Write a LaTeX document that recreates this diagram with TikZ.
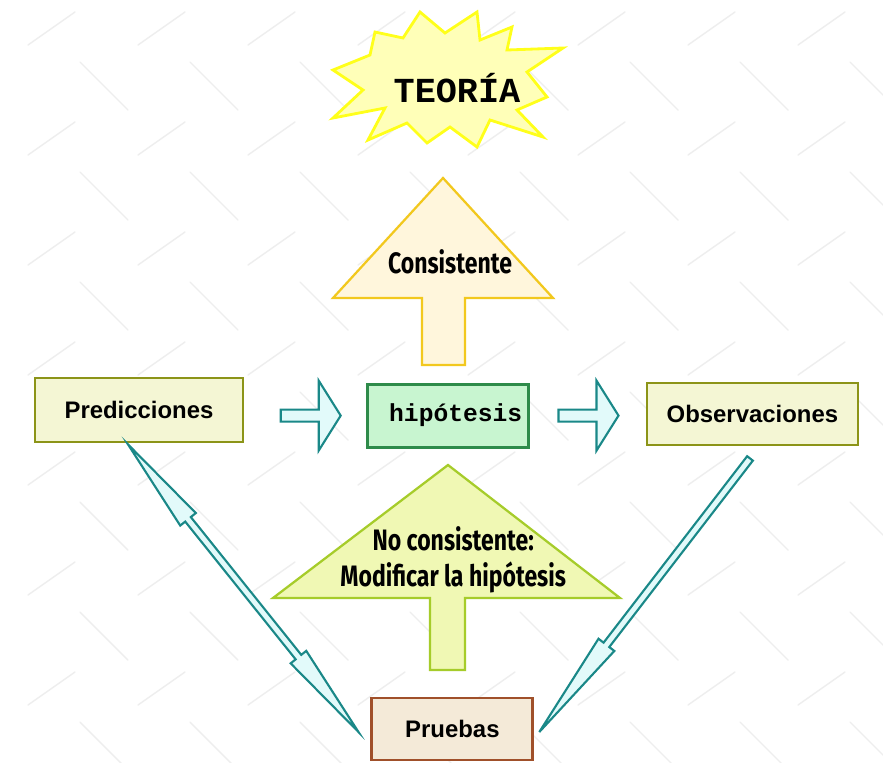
\documentclass[tikz,border=0pt]{standalone}
\usepackage{fontspec}
\usepackage{tikz}
\usetikzlibrary{calc, positioning}
\newfontfamily\labelfont{Liberation Sans}
\newfontfamily\slabfont{Liberation Mono}
\newfontfamily\condfont{Fira Sans}[FakeStretch=0.78]
\definecolor{tealline}{RGB}{26,136,136}
\definecolor{tealfill}{RGB}{226,250,250}
\definecolor{olive}{RGB}{140,148,24}
\definecolor{olivefill}{RGB}{244,246,212}
\definecolor{hipoline}{RGB}{46,139,74}
\definecolor{hipofill}{RGB}{200,245,208}
\definecolor{brownline}{RGB}{160,80,42}
\definecolor{brownfill}{RGB}{244,234,216}
\definecolor{goldline}{RGB}{242,200,30}
\definecolor{goldfill}{RGB}{255,246,220}
\definecolor{limeline}{RGB}{166,204,42}
\definecolor{limefill}{RGB}{240,248,180}
\definecolor{sunline}{RGB}{255,255,26}
\definecolor{sunfill}{RGB}{255,255,184}
\definecolor{plate}{RGB}{238,238,238}

% thin block arrow: style, from, to, shaft half width, head half width, head length
\newcommand{\thinarrow}[6]{%
  \coordinate (hb) at ($(#3)!#6!(#2)$);
  \draw[#1] ($(#2)!#4!90:(#3)$) -- ($(hb)!#4!90:(#3)$) -- ($(hb)!#5!90:(#3)$) -- (#3)
    -- ($(hb)!#5!-90:(#3)$) -- ($(hb)!#4!-90:(#3)$) -- ($(#2)!#4!-90:(#3)$) -- cycle;
}
% same, with a head at both ends
\newcommand{\twowayarrow}[6]{%
  \coordinate (ha) at ($(#2)!#6!(#3)$);
  \coordinate (hb) at ($(#3)!#6!(#2)$);
  \draw[#1] (#2) -- ($(ha)!#5!90:(#3)$) -- ($(ha)!#4!90:(#3)$) -- ($(hb)!#4!90:(#3)$)
    -- ($(hb)!#5!90:(#3)$) -- (#3) -- ($(hb)!#5!-90:(#3)$) -- ($(hb)!#4!-90:(#3)$)
    -- ($(ha)!#4!-90:(#3)$) -- ($(ha)!#5!-90:(#3)$) -- cycle;
}

\begin{document}
\begin{tikzpicture}[
  box/.style={draw=olive, fill=olivefill, line width=2pt,
              minimum width=5.2cm, minimum height=1.6cm,
              font=\labelfont\bfseries\fontsize{17}{20}\selectfont},
  blockarrow/.style={draw=tealline, fill=tealfill, line width=1.5pt, line join=miter},
  uparrow/.style={line width=1.6pt, line join=miter},
  bigtext/.style={font=\condfont\bfseries\fontsize{21}{25.6}\selectfont, align=center}
]
\useasboundingbox[fill=white] (0,0) rectangle (22.075,-19.075);

% background plate pattern
\foreach \i in {0,...,8}
  \foreach \j in {0,...,7} {
    \draw[plate, line width=1pt, line cap=round]
      (0.7+2.75*\i,-1.125-2.75*\j) -- ++(1.175,0.825);
    \draw[plate, line width=1pt, line cap=round]
      (2.0+2.75*\i,-1.55-2.75*\j) -- ++(1.2,-1.2);
  }

% theory burst
\draw[draw=sunline, fill=sunfill, line width=2pt, shift={(11.425,-2.2)}]
  (-0.925,1.9) -- (-0.3,1.375) -- (0.5,1.9) -- (0.575,1.2) -- (1.375,1.525)
  -- (1.25,0.95) -- (2.65,1.0) -- (1.75,0.4) -- (2.25,-0.225) -- (1.5,-0.55)
  -- (2.15,-1.225) -- (0.825,-0.8) -- (0.5,-1.475) -- (-0.175,-0.975)
  -- (-0.75,-1.375) -- (-1.25,-0.875) -- (-2.225,-1.3) -- (-1.8,-0.5)
  -- (-3.1,-0.75) -- (-2.35,-0.05) -- (-3.1,0.45) -- (-2.175,0.825)
  -- (-2.05,1.4) -- (-1.35,1.25) -- cycle;
\node[font=\slabfont\bfseries\fontsize{25}{30}\selectfont] (teoria) at (11.425,-2.2) {TEORÍA};

% consistent
\draw[uparrow, draw=goldline, fill=goldfill]
  (11.075,-4.45) -- (13.825,-7.45) -- (11.625,-7.45) -- (11.625,-9.125)
  -- (10.55,-9.125) -- (10.55,-7.45) -- (8.325,-7.45) -- cycle;
\node[bigtext] (consis) at (11.25,-6.55) {Consistente};

% not consistent
\draw[uparrow, draw=limeline, fill=limefill]
  (11.2,-11.625) -- (15.5,-14.95) -- (11.625,-14.95) -- (11.625,-16.75)
  -- (10.75,-16.75) -- (10.75,-14.95) -- (6.825,-14.95) -- cycle;
\node[bigtext] (nocons) at (11.33,-14.0) {No consistente:\\Modificar la hipótesis};

\node[box] (pred) at (3.475,-10.25) {Predicciones};
\node[box, minimum width=5.275cm, minimum height=1.55cm] (obs) at (18.81,-10.35) {Observaciones};
\node[box, draw=hipoline, fill=hipofill, minimum width=4.025cm, minimum height=1.575cm,
      text width=3.725cm, align=right, inner xsep=0.15cm,
      font=\slabfont\bfseries\fontsize{17.5}{20}\selectfont] (hipo) at (11.19,-10.39) {hipótesis};
\node[box, draw=brownline, fill=brownfill, minimum width=4.025cm, minimum height=1.55cm]
  (pruebas) at (11.31,-18.225) {Pruebas};

% connectors
\coordinate (p1) at ($(hipo.west)+(-2.125,0)$);
\coordinate (p2) at ($(hipo.west)+(-0.625,0)$);
\thinarrow{blockarrow}{p1}{p2}{0.15cm}{0.875cm}{0.55cm}
\coordinate (o1) at ($(hipo.east)+(0.725,0)$);
\coordinate (o2) at ($(hipo.east)+(2.225,0)$);
\thinarrow{blockarrow}{o1}{o2}{0.15cm}{0.875cm}{0.55cm}

\coordinate (d1) at ($(pred.south)+(-0.275,-0.025)$);
\coordinate (d2) at ($(pruebas.west)+(-0.3,-0.075)$);
\twowayarrow{blockarrow}{d1}{d2}{0.09cm}{0.25cm}{2.4cm}
\coordinate (e1) at ($(obs.south)+(-0.06,-0.3)$);
\coordinate (e2) at ($(pruebas.east)+(0.125,-0.075)$);
\thinarrow{blockarrow}{e1}{e2}{0.09cm}{0.25cm}{2.75cm}
\end{tikzpicture}
\end{document}
